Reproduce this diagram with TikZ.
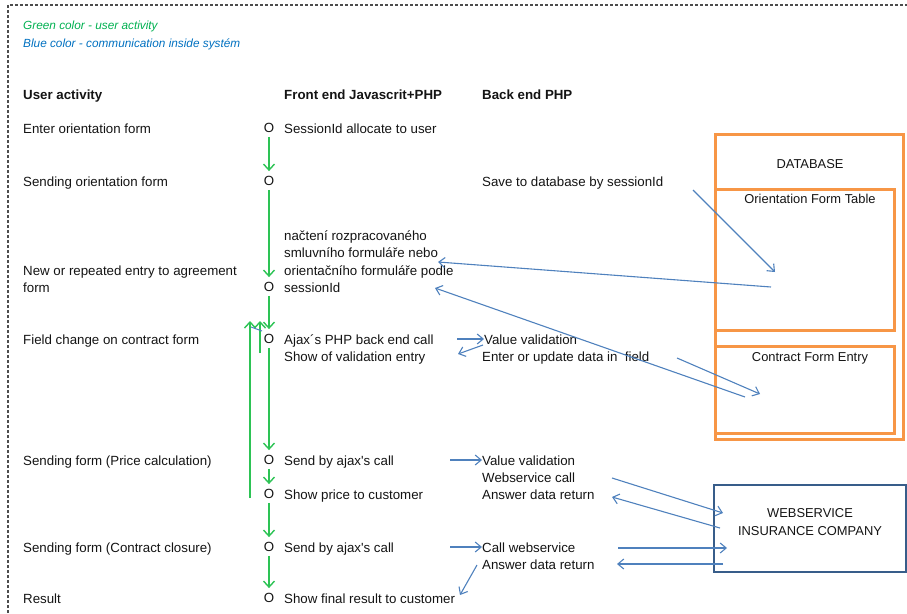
\documentclass[tikz,border=0pt]{standalone}
\usepackage{fontspec}
\setmainfont{Liberation Sans}[Ligatures=TeXOff]
\usetikzlibrary{arrows.meta}

\definecolor{actgreen}{RGB}{45,195,85}
\definecolor{legendgreen}{RGB}{0,176,80}
\definecolor{legendblue}{RGB}{0,112,192}
\definecolor{msgblue}{RGB}{79,129,189}
\definecolor{dborange}{RGB}{247,150,70}
\definecolor{wsblue}{RGB}{56,93,138}
\definecolor{inktext}{RGB}{20,20,20}

\tikzset{
  txt/.style={anchor=base west, inner sep=0pt, text=inktext,
    font=\fontsize{13.3}{16}\selectfont},
  headtxt/.style={txt, font=\fontsize{13.3}{16}\selectfont\bfseries},
  legendtxt/.style={anchor=base west, inner sep=0pt,
    font=\fontsize{11.8}{14}\selectfont\itshape},
  boxlabel/.style={anchor=base, inner sep=0pt, text=inktext,
    font=\fontsize{12.9}{15}\selectfont},
  omark/.style={inner sep=2pt, text=inktext, font=\fontsize{13.3}{16}\selectfont},
  useract/.style={draw=actgreen, line width=1.4pt,
    -{Straight Barb[length=6pt,width=11pt]}},
  flow/.style={useract, shorten <=2pt, shorten >=3pt},
  sysmsg/.style={draw=msgblue, line width=1.1pt,
    -{Straight Barb[length=6pt,width=10pt]}},
  dbbox/.style={draw=dborange, line width=2.8pt, anchor=north west, inner sep=0pt},
  wsbox/.style={draw=wsblue, line width=2.2pt, anchor=north west, inner sep=0pt},
  framedot/.style={draw=black!70, line width=1.1pt, dash pattern=on 3pt off 2pt},
}

\begin{document}
\begin{tikzpicture}[x=1pt,y=-1pt]
\useasboundingbox (0,0) rectangle (907,613);

% dotted page frame
\draw[framedot] (8,613) -- (8,5) -- (907,5);

% legend
\node[legendtxt, text=legendgreen] (lg1) at (23,29) {Green color - user activity};
\node[legendtxt, text=legendblue] (lg2) at (23,47) {Blue color - communication inside systém};

% column headers
\node[headtxt] (h1) at (23,99) {User activity};
\node[headtxt] (h2) at (284,99) {Front end Javascrit+PHP};
\node[headtxt] (h3) at (482,99) {Back end PHP};

% user activity column
\node[txt] (u1) at (23,133) {Enter orientation form};
\node[txt] (u2) at (23,186) {Sending orientation form};
\node[txt] (u3a) at (23,275) {New or repeated entry to agreement};
\node[txt] (u3b) at (23,292) {form};
\node[txt] (u4) at (23,344) {Field change on contract form};
\node[txt] (u5) at (23,465) {Sending form (Price calculation)};
\node[txt] (u6) at (23,552) {Sending form (Contract closure)};
\node[txt] (u7) at (23,603) {Result};

% front end steps
\node[omark] (o1) at (269,128) {O};
\node[omark] (o2) at (269,181) {O};
\node[omark] (o3) at (269,287) {O};
\node[omark] (o4) at (269,339) {O};
\node[omark] (o5) at (269,460) {O};
\node[omark] (o6) at (269,494) {O};
\node[omark] (o7) at (269,547) {O};
\node[omark] (o8) at (269,598) {O};

\node[txt] (f1) at (284,133) {SessionId allocate to user};
\node[txt] (f2a) at (284,240) {načtení rozpracovaného};
\node[txt] (f2b) at (284,257) {smluvního formuláře nebo};
\node[txt] (f2c) at (284,275) {orientačního formuláře podle};
\node[txt] (f2d) at (284,292) {sessionId};
\node[txt] (f3a) at (284,344) {Ajax´s PHP back end call};
\node[txt] (f3b) at (284,361) {Show of validation entry};
\node[txt] (f4) at (284,465) {Send by ajax's call};
\node[txt] (f5) at (284,499) {Show price to customer};
\node[txt] (f6) at (284,552) {Send by ajax's call};
\node[txt] (f7) at (284,603) {Show final result to customer};

% back end
\node[txt] (b1) at (482,186) {Save to database by sessionId};
\node[txt] (b2a) at (484,344) {Value validation};
\node[txt] (b2b) at (482,361) {Enter or update data in~ field};
\node[txt] (b3a) at (482,465) {Value validation};
\node[txt] (b3b) at (482,482) {Webservice call};
\node[txt] (b3c) at (482,499) {Answer data return};
\node[txt] (b4a) at (482,552) {Call webservice};
\node[txt] (b4b) at (482,569) {Answer data return};

% database
\node[dbbox, minimum width=188pt, minimum height=305pt] (db) at (714,133) {};
\node[dbbox, minimum width=179pt, minimum height=141pt] (orient) at (714,188) {};
\node[dbbox, minimum width=179pt, minimum height=87pt] (contract) at (714,345) {};
\node[boxlabel] (dbl) at (810,168) {DATABASE};
\node[boxlabel] (orl) at (810,203) {Orientation Form Table};
\node[boxlabel] (ctl) at (810,361) {Contract Form Entry};

% insurance web service
\node[wsbox, minimum width=192pt, minimum height=87pt] (ws) at (713,484) {};
\node[boxlabel] (wsl1) at (810,517) {WEBSERVICE};
\node[boxlabel] (wsl2) at (810,535) {INSURANCE COMPANY};

% user activity flow
\draw[flow] (o1) -- (o2);
\draw[flow] (o2) -- (o3);
\draw[flow] (o3) -- (o4);
\draw[flow] (o4) -- (o5);
\draw[flow] (o5) -- (o6);
\draw[flow] (o6) -- (o7);
\draw[flow] (o7) -- (o8);

% return loops
\coordinate (loopA0) at (250,498);
\coordinate (loopA1) at (250,321);
\coordinate (loopB0) at (260,353);
\coordinate (loopB1) at (260,321);
\draw[useract] (loopA0) -- (loopA1);
\draw[useract] (loopB0) -- (loopB1);
\coordinate (tick0) at (251,327);
\coordinate (tick1) at (262,331);
\draw[draw=msgblue, line width=1pt] (tick0) -- (tick1);

% system communication
\coordinate (saveOut) at (693,190);
\coordinate (orientIn) at (775,272);
\draw[sysmsg] (saveOut) -- (orientIn);

\coordinate (orientOut) at (771,287);
\coordinate (loadIn) at (438,262);
\draw[sysmsg] (orientOut) -- (loadIn);

\coordinate (contractOut) at (745,397);
\coordinate (loadIn2) at (435,288);
\draw[sysmsg] (contractOut) -- (loadIn2);

\coordinate (updOut) at (677,358);
\coordinate (contractIn) at (760,394);
\draw[sysmsg] (updOut) -- (contractIn);

\coordinate (ajaxOut) at (457,339);
\draw[sysmsg] (ajaxOut) -- (b2a.west |- ajaxOut);
\coordinate (valOut) at (483,345);
\coordinate (valIn) at (458,354);
\draw[sysmsg] (valOut) -- (valIn);

\coordinate (priceOut) at (450,460);
\draw[sysmsg] (priceOut) -- (b3a.west |- priceOut);

\coordinate (wsCallOut) at (612,478);
\coordinate (wsCallIn) at (723,513);
\draw[sysmsg] (wsCallOut) -- (wsCallIn);
\coordinate (wsAnsOut) at (720,528);
\coordinate (wsAnsIn) at (612,497);
\draw[sysmsg] (wsAnsOut) -- (wsAnsIn);

\coordinate (closeOut) at (450,547);
\draw[sysmsg] (closeOut) -- (b4a.west |- closeOut);

\coordinate (ws2CallOut) at (618,548);
\coordinate (ws2CallIn) at (727,548);
\draw[sysmsg] (ws2CallOut) -- (ws2CallIn);
\coordinate (ws2AnsOut) at (723,564);
\coordinate (ws2AnsIn) at (617,564);
\draw[sysmsg] (ws2AnsOut) -- (ws2AnsIn);

\coordinate (resOut) at (477,565);
\coordinate (resIn) at (460,595);
\draw[sysmsg] (resOut) -- (resIn);
\end{tikzpicture}
\end{document}
